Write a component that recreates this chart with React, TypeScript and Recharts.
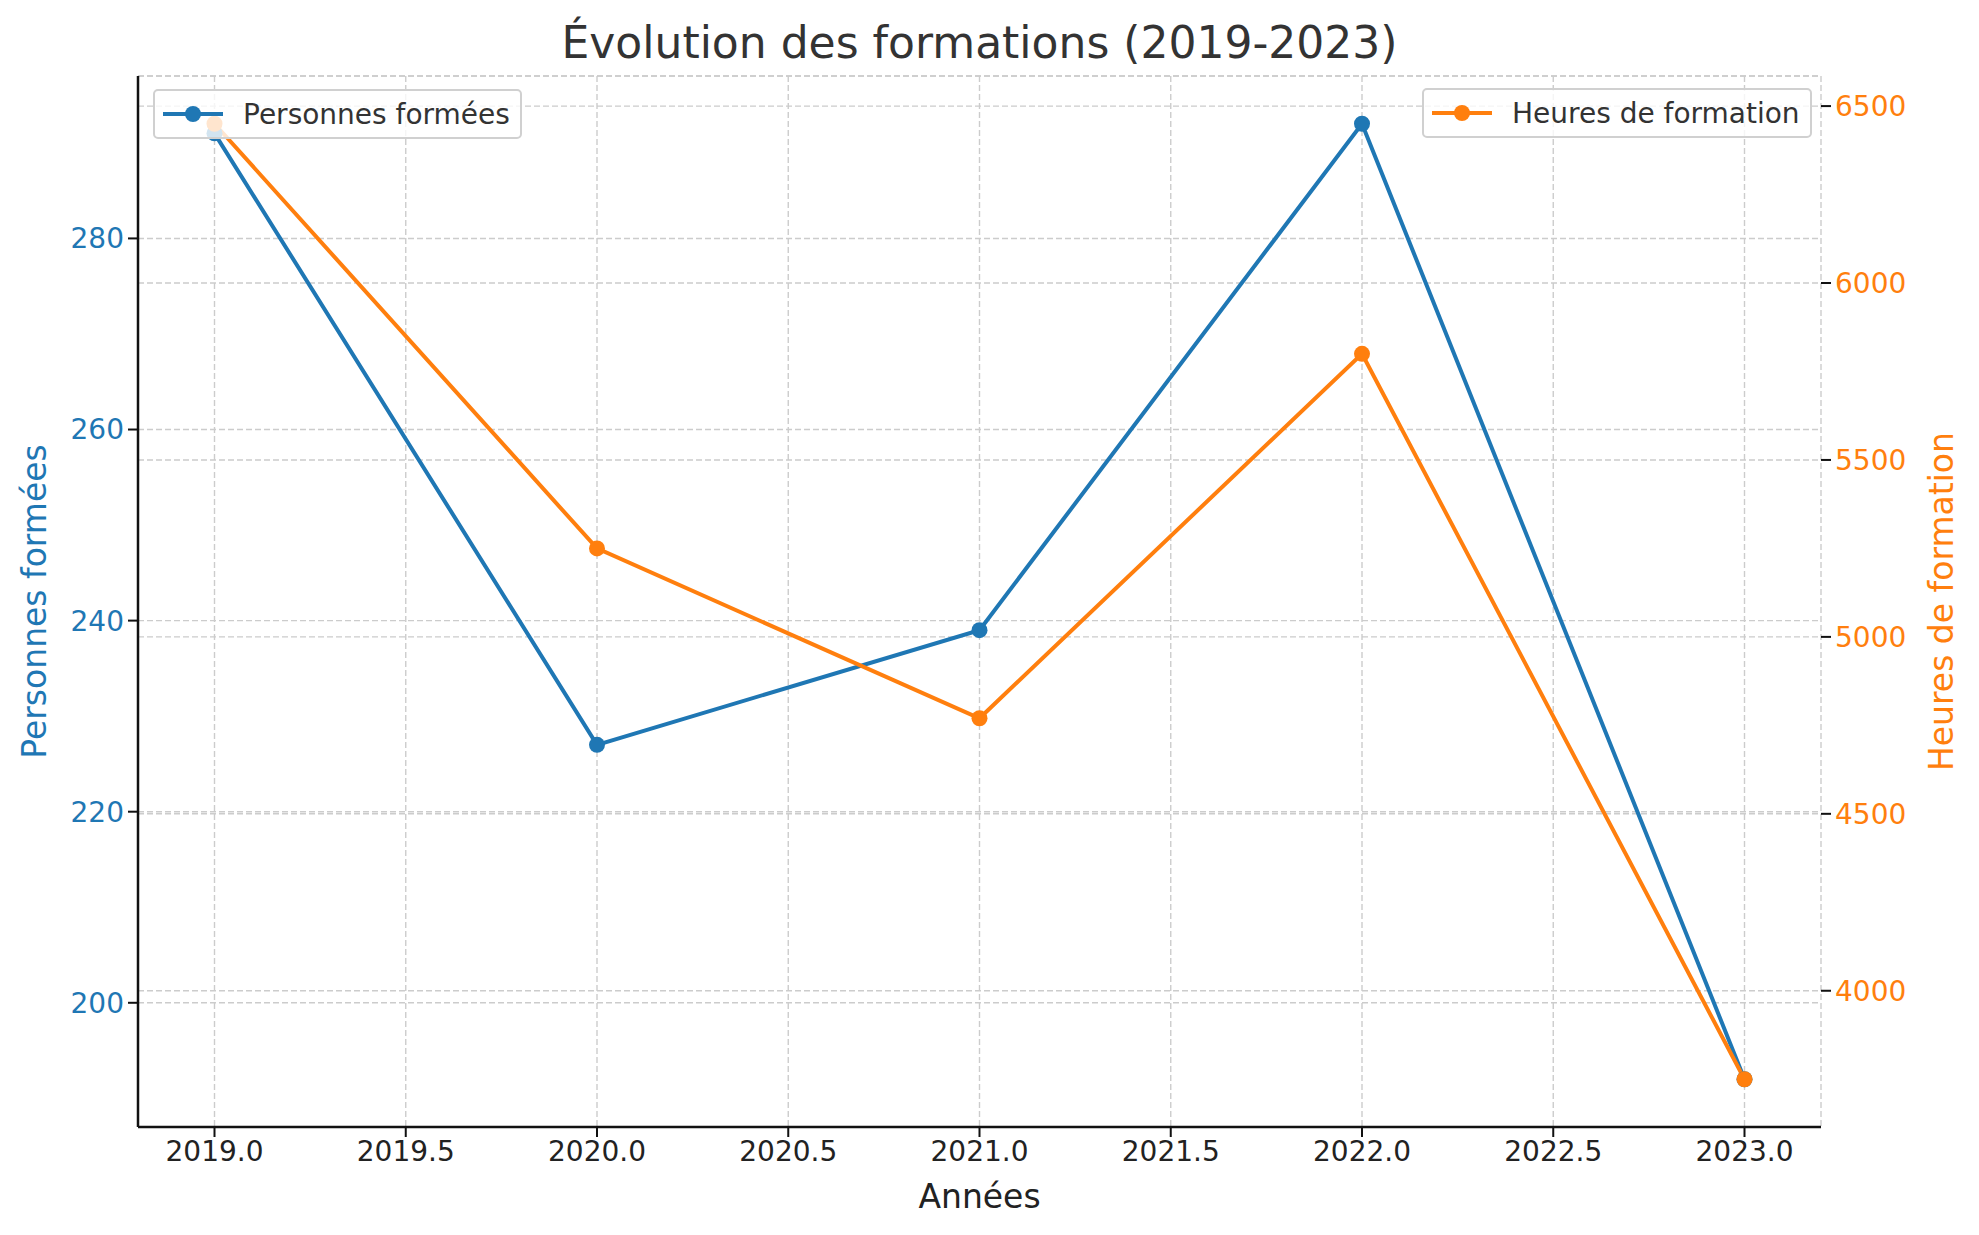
import React from 'react';
import {
  LineChart,
  Line,
  XAxis,
  YAxis,
  CartesianGrid,
} from 'recharts';

const years = [2019, 2020, 2021, 2022, 2023];
const personnesFormees = [291, 227, 239, 292, 192];
const heuresFormation = [6450, 5250, 4770, 5800, 3750];

const xTicks = [2019, 2019.5, 2020, 2020.5, 2021, 2021.5, 2022, 2022.5, 2023];
const leftTicks = [200, 220, 240, 260, 280];
const rightTicks = [4000, 4500, 5000, 5500, 6000, 6500];

const BLUE = '#1f77b4';
const ORANGE = '#ff7f0e';
const FONT = '"DejaVu Sans", Verdana, sans-serif';

const data = years.map((year, i) => ({
  year,
  personnes: personnesFormees[i],
  heures: heuresFormation[i],
}));

const W = 1979;
const H = 1235;

const VerticalLabel = ({ viewBox, value, color, dx }: any) => {
  const cx = viewBox.x + dx;
  const cy = viewBox.y + viewBox.height / 2;
  return (
    <text
      x={cx}
      y={cy}
      fill={color}
      fontSize={33}
      fontFamily={FONT}
      textAnchor="middle"
      dominantBaseline="central"
      transform={`rotate(-90, ${cx}, ${cy})`}
    >
      {value}
    </text>
  );
};

const XLabel = ({ viewBox }: any) => (
  <text
    x={viewBox.x + viewBox.width / 2}
    y={viewBox.y + 69}
    fill="#222"
    fontSize={33}
    fontFamily={FONT}
    textAnchor="middle"
    dominantBaseline="central"
  >
    Années
  </text>
);

const LegendBox = ({ left, top, label, color }: any) => (
  <div
    style={{
      position: 'absolute',
      left,
      top,
      height: 50,
      boxSizing: 'border-box',
      padding: '0 10px 0 8px',
      display: 'flex',
      alignItems: 'center',
      background: 'rgba(255,255,255,0.8)',
      border: '2px solid #d0d0d0',
      borderRadius: 5,
      fontFamily: FONT,
      fontSize: 28,
      color: '#333',
    }}
  >
    <svg width={60} height={20} style={{ marginRight: 20 }}>
      <line x1={0} y1={10} x2={60} y2={10} stroke={color} strokeWidth={4} />
      <circle cx={30} cy={10} r={8} fill={color} />
    </svg>
    {label}
  </div>
);

export default function App() {
  return (
    <div style={{ position: 'absolute', left: 0, top: 0, width: W, height: H, background: '#fff' }}>
      <div
        style={{
          position: 'absolute',
          left: 138,
          width: 1683,
          top: 17,
          textAlign: 'center',
          fontFamily: FONT,
          fontSize: 44,
          color: '#333',
          lineHeight: '52px',
        }}
      >
        Évolution des formations (2019-2023)
      </div>
      <LineChart
        width={W}
        height={H}
        data={data}
        margin={{ top: 76, left: 8, right: 8, bottom: 28 }}
      >
        <CartesianGrid
          yAxisId="left"
          stroke="#cccccc"
          strokeDasharray="6 3"
          strokeWidth={1.4}
        />
        <CartesianGrid
          yAxisId="right"
          vertical={false}
          stroke="#cccccc"
          strokeDasharray="6 3"
          strokeWidth={1.4}
        />
        <XAxis
          dataKey="year"
          type="number"
          domain={[2018.8, 2023.2]}
          ticks={xTicks}
          interval={0}
          tickFormatter={(v: number) => v.toFixed(1)}
          height={80}
          tickSize={10}
          tickMargin={4}
          stroke="#111"
          axisLine={{ stroke: '#111', strokeWidth: 2.5 }}
          tickLine={{ stroke: '#111', strokeWidth: 2 }}
          tick={{ fill: '#222', fontSize: 28, fontFamily: FONT }}
          label={<XLabel />}
        />
        <YAxis
          yAxisId="left"
          type="number"
          domain={[187, 297]}
          ticks={leftTicks}
          interval={0}
          width={130}
          tickSize={10}
          tickMargin={4}
          axisLine={{ stroke: '#111', strokeWidth: 2.5 }}
          tickLine={{ stroke: '#111', strokeWidth: 2 }}
          tick={{ fill: BLUE, fontSize: 28, fontFamily: FONT }}
          label={<VerticalLabel value="Personnes formées" color={BLUE} dx={26} />}
        />
        <YAxis
          yAxisId="right"
          orientation="right"
          type="number"
          domain={[3615, 6585]}
          ticks={rightTicks}
          interval={0}
          width={150}
          tickSize={10}
          tickMargin={4}
          axisLine={false}
          tickLine={{ stroke: '#111', strokeWidth: 2 }}
          tick={{ fill: ORANGE, fontSize: 28, fontFamily: FONT }}
          label={<VerticalLabel value="Heures de formation" color={ORANGE} dx={120} />}
        />
        <Line
          yAxisId="left"
          dataKey="personnes"
          name="Personnes formées"
          type="linear"
          stroke={BLUE}
          strokeWidth={4}
          dot={{ r: 8, fill: BLUE, stroke: BLUE, strokeWidth: 0 }}
          isAnimationActive={false}
        />
        <Line
          yAxisId="right"
          dataKey="heures"
          name="Heures de formation"
          type="linear"
          stroke={ORANGE}
          strokeWidth={4}
          dot={{ r: 8, fill: ORANGE, stroke: ORANGE, strokeWidth: 0 }}
          isAnimationActive={false}
        />
      </LineChart>
      <LegendBox left={153} top={89} label="Personnes formées" color={BLUE} />
      <LegendBox left={1422} top={88} label="Heures de formation" color={ORANGE} />
    </div>
  );
}
